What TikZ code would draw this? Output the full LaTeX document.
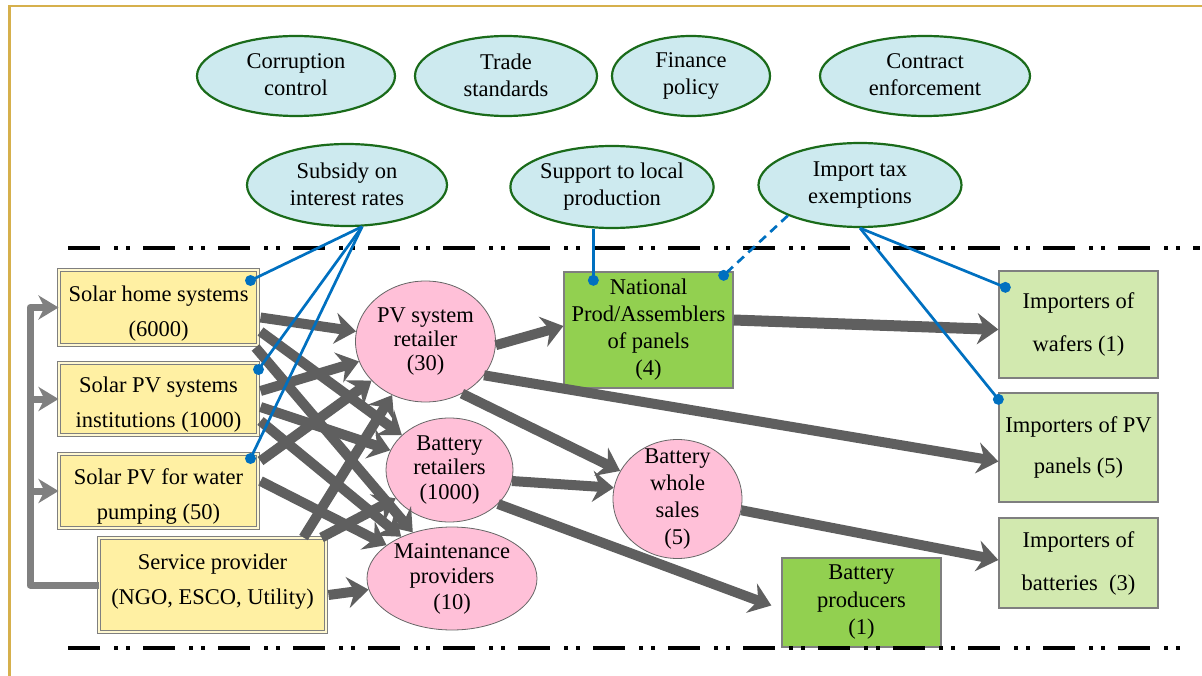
\documentclass[tikz,border=0pt]{standalone}
\usepackage{fontspec}
\setmainfont{Liberation Serif}
\newfontfamily\diagfont{Liberation Serif}
\usetikzlibrary{arrows.meta,shapes.geometric,calc}

\definecolor{frameGold}{HTML}{D6B04C}
\definecolor{polFill}{HTML}{CDEAEF}
\definecolor{polEdge}{HTML}{1A6B1A}
\definecolor{userFill}{HTML}{FFF0A3}
\definecolor{boxEdge}{HTML}{7F7F7F}
\definecolor{midFill}{HTML}{FFC0D8}
\definecolor{prodFill}{HTML}{92D050}
\definecolor{impFill}{HTML}{D2E9AF}
\definecolor{flowGray}{HTML}{5F5F5F}
\definecolor{loopGray}{HTML}{808080}
\definecolor{linkBlue}{HTML}{0070C0}

% font size with a given line pitch
\newcommand\dsize[1]{\diagfont\fontsize{22.5}{#1}\selectfont}

\begin{document}
\begin{tikzpicture}[x=1pt,y=-1pt,
  every node/.style={font=\dsize{27}, align=center, inner sep=0pt},
  policy/.style={ellipse, draw=polEdge, line width=2.2pt, fill=polFill,
    execute at begin node=\rule{0pt}{16pt},
    execute at end node=\rule[-2pt]{0pt}{2pt}},
  userbox/.style={rectangle, draw=boxEdge, line width=1pt, double=userFill!50!white,
    double distance=2.2pt, fill=userFill},
  usertext/.style={font=\dsize{35}, align=center, inner sep=0pt},
  dealer/.style={ellipse, draw=boxEdge!80!black, line width=0.8pt, fill=midFill, inner sep=-12pt},
  prodbox/.style={rectangle, draw=boxEdge, line width=1.3pt, fill=prodFill},
  impbox/.style={rectangle, draw=boxEdge, line width=1.3pt, fill=impFill},
  flowarrow/.style={draw=flowGray, line width=10pt,
    -{Stealth[length=21pt,width=31pt,inset=7pt]}},
  fbline/.style={draw=loopGray, line width=7pt, line join=round,
    -{Stealth[length=20pt,width=24pt,inset=6pt]}},
  divider/.style={line width=4.5pt,
    dash pattern=on 32pt off 14pt on 4pt off 8pt on 4pt off 13pt},
  link/.style={draw=linkBlue, line width=2.7pt},
  linkdot/.style={fill=linkBlue}
]
\useasboundingbox (0,0) rectangle (1202,676);

% outer frame
\draw[frameGold, line width=2.6pt] (9.5,676) -- (9.5,6) -- (1202,6);

% institutional environment
\node[policy, minimum width=198, minimum height=80] (corr)  at (296,76)  {Corruption\\control};
\node[policy, minimum width=182, minimum height=80] (trade) at (506,76)  {Trade\\standards};
\node[policy, minimum width=158, minimum height=80] (fin)   at (691,76)  {Finance\\policy};
\node[policy, minimum width=210, minimum height=80] (contr) at (925,76)  {Contract\\enforcement};

% targeted policies
\node[policy, minimum width=200, minimum height=82] (subs) at (347,185) {Subsidy on\\interest rates};
\node[policy, minimum width=199, minimum height=82] (supp) at (612,187) {Support to local\\production};
\node[policy, minimum width=203, minimum height=84] (imp)  at (860,185) {Import tax\\exemptions};

% dividers
\draw[divider] (68,248) -- (1200,248);

% end users
\node[userbox, minimum width=199, minimum height=75,
  label={[usertext, yshift=-6pt]center:{Solar home systems\\(6000)}}] (shs) at (158.5,307.5) {};
\node[userbox, minimum width=199, minimum height=72,
  label={[usertext, yshift=-6pt]center:{Solar PV systems\\institutions (1000)}}] (pvi) at (158.5,399) {};
\node[userbox, minimum width=199, minimum height=74,
  label={[usertext, yshift=-6pt]center:{Solar PV for water\\pumping (50)}}] (wp) at (158.5,491) {};
\node[userbox, minimum width=227, minimum height=94,
  label={[usertext, yshift=3pt]center:{Service provider\\(NGO, ESCO, Utility)}}] (sp) at (212.5,585) {};

% retail and service layer
\node[dealer, minimum width=140, minimum height=121, font=\dsize{24}]
  (pvr) at (425.5,341.5) {PV system\\retailer\\(30)};
\node[dealer, minimum width=127, minimum height=104, font=\dsize{24.5}]
  (br) at (449.5,470) {Battery\\retailers\\(1000)};
\node[dealer, minimum width=129, minimum height=119, font=\dsize{26.7}]
  (bws) at (677.5,499) {Battery\\whole\\sales\\(5)};
\node[dealer, minimum width=170, minimum height=103, font=\dsize{25.5}]
  (mp) at (452,578.5) {Maintenance\\providers\\(10)};

% producers
\node[prodbox, minimum width=169, minimum height=116] (np) at (648.5,330)
  {National\\Prod/Assemblers\\of panels\\(4)};
\node[prodbox, minimum width=159, minimum height=89, font=\dsize{27.5}]
  (bp) at (861.5,602.5) {Battery\\producers\\(1)};

% importers
\node[impbox, minimum width=159, minimum height=107, font=\dsize{43}]
  (iw) at (1078.5,324.5) {Importers of\\wafers (1)};
\node[impbox, minimum width=159, minimum height=109, font=\dsize{41}]
  (ipv) at (1078.5,447.5) {Importers of PV\\panels (5)};
\node[impbox, minimum width=159, minimum height=90, font=\dsize{43}]
  (ib) at (1078.5,563) {Importers of\\batteries~ (3)};

\draw[divider] (68,648) -- (1180,648);

% feedback from service providers to the user groups
\coordinate (loopx) at (30,0);
\draw[fbline] (sp.west) -| (loopx |- shs.west) -- (shs.west);
\draw[fbline] (loopx |- pvi.west) -- (pvi.west);
\draw[fbline] (loopx |- wp.west) -- (wp.west);

% flows from users to the retail layer
\draw[flowarrow] ($(shs.east)+(2,10)$)  -- (pvr);
\draw[flowarrow] ($(shs.east)+(2,24)$)  -- (br);
\draw[flowarrow] ($(shs.south east)+(-3,2)$) -- (mp);
\draw[flowarrow] ($(pvi.east)+(2,-8)$)  -- (pvr);
\draw[flowarrow] ($(pvi.east)+(2,8)$)   -- (br);
\draw[flowarrow] ($(pvi.east)+(2,22)$)  -- (mp);
\draw[flowarrow] ($(wp.east)+(2,-30)$)  -- (pvr);
\draw[flowarrow] ($(wp.east)+(2,-10)$)  -- (mp);
\draw[flowarrow] ($(sp.north east)+(-23,0)$) -- (pvr);
\draw[flowarrow] ($(sp.north east)+(-5,0)$)  -- (br);
\draw[flowarrow] ($(sp.east)+(2,10)$)   -- (mp);

% upstream flows
\draw[flowarrow] (pvr.-3)  -- ($(np.west)+(0,-4)$);
\draw[flowarrow, line width=11pt] ($(np.east)+(0,-10)$) -- ($(iw.west)+(0,5)$);
\draw[flowarrow] (pvr.-30) -- ($(ipv.west)+(0,14)$);
\draw[flowarrow] (pvr.-55) -- (bws);
\draw[flowarrow] (br.-10)  -- (bws.170);
\draw[flowarrow] (br.-35)  -- ($(bp.west)+(-10,3)$);
\draw[flowarrow] (bws.-10) -- ($(ib.west)+(0,-3)$);

% policy links
\coordinate (dshs) at ($(shs.north east)+(-8,11)$);
\coordinate (dpvi) at ($(pvi.north east)+(0,7)$);
\coordinate (dwp)  at ($(wp.north east)+(-8,5)$);
\coordinate (dnps) at ($(np.north west)+(30,9)$);
\coordinate (dnpt) at ($(np.north east)+(-10,4)$);
\coordinate (diw)  at ($(iw.north west)+(7,17)$);
\coordinate (dipv) at ($(ipv.north west)+(0,7)$);

\draw[link] (subs.290) -- (dshs);
\draw[link] (subs.290) -- (dpvi);
\draw[link] (subs.290) -- (dwp);
\draw[link] (dnps |- supp.south) -- (dnps);
\draw[link, dash pattern=on 9pt off 6pt] (imp.203) -- (dnpt);
\draw[link] (imp.south) -- (diw);
\draw[link] (imp.south) -- (dipv);

\foreach \d in {dshs,dpvi,dwp,dnps,dnpt,diw,dipv}
  \fill[linkdot] (\d) circle[radius=5.5pt];
\end{tikzpicture}
\end{document}
